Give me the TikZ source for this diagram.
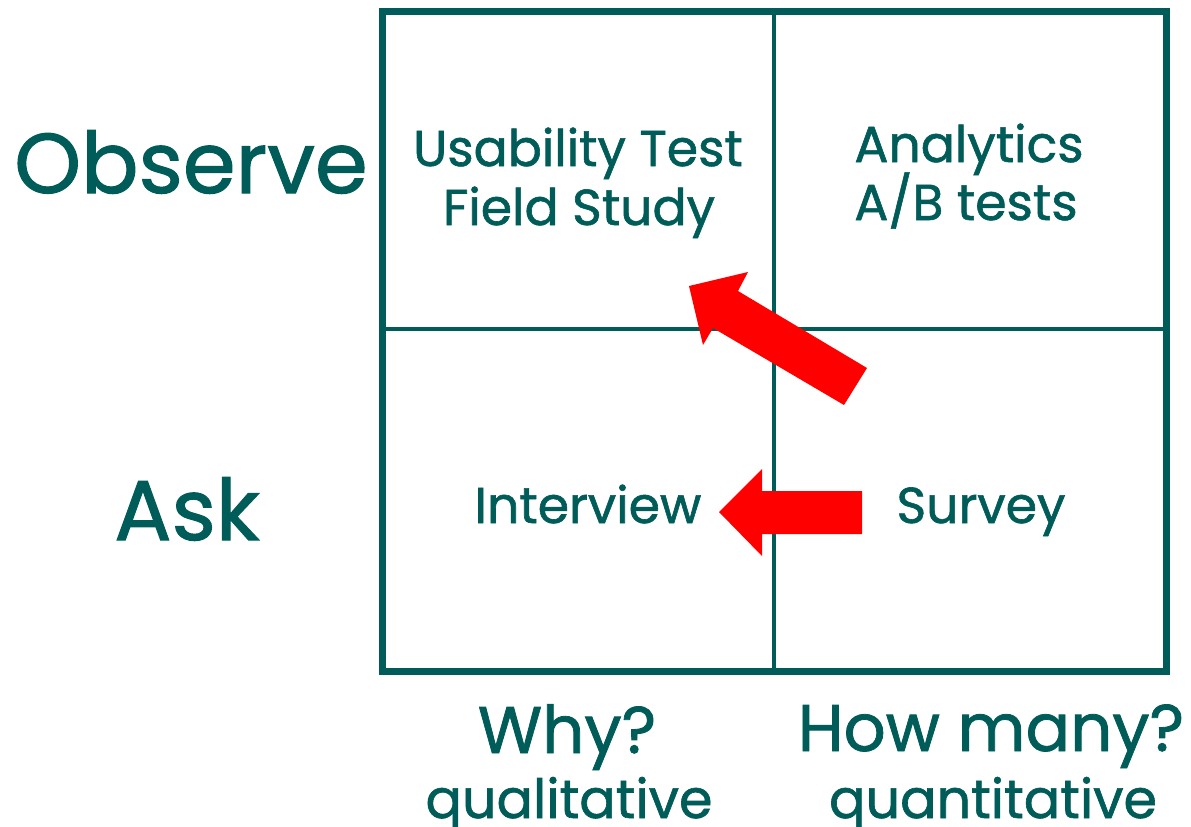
\documentclass[tikz,border=0pt]{standalone}
\usepackage{fontspec}
\setmainfont{Poppins}[FakeBold=1.2]
\definecolor{teal1}{RGB}{0,92,88}
\definecolor{arrowred}{RGB}{255,0,0}
\begin{document}
\begin{tikzpicture}[x=1pt,y=-1pt,
  outer/.style={draw=teal1,line width=7pt},
  inner/.style={draw=teal1,line width=4pt},
  bigword/.style={text=teal1,anchor=base,inner sep=0pt,font=\fontsize{85}{90}\selectfont},
  celltext/.style={text=teal1,anchor=base,inner sep=0pt,font=\fontsize{50.5}{56}\selectfont},
  axisq/.style={text=teal1,anchor=base,inner sep=0pt,font=\fontsize{66}{72}\selectfont},
  axissub/.style={text=teal1,anchor=base,inner sep=0pt,font=\fontsize{54}{60}\selectfont},
  blockarrow/.style={fill=arrowred,draw=none}]
\useasboundingbox (0,0) rectangle (1191,827);
% grid
\coordinate (tl) at (382,11);
\coordinate (br) at (1166,671);
\coordinate (mt) at (774,11);
\coordinate (mb) at (774,671);
\coordinate (ml) at (382,329);
\coordinate (mr) at (1166,329);
\draw[inner] (mt) -- (mb);
\draw[inner] (ml) -- (mr);
\draw[outer] (tl) rectangle (br);
% row labels
\node[bigword] (observe) at (191,193) {Observe};
\node[bigword] (ask) at (187,540) {Ask};
% cells
\node[celltext] (ut) at (578,166) {Usability Test};
\node[celltext] (fs) at (579,225) {Field Study};
\node[celltext] (an) at (969,162) {Analytics};
\node[celltext] (ab) at (966,220) {A/B tests};
\node[celltext] (iv) at (588,523) {Interview};
\node[celltext] (sv) at (981,523) {Survey};
% column labels
\node[axisq] (why) at (567,753) {Why?};
\node[axissub] (qual) at (569,818) {qualitative};
\node[axisq] (howmany) at (991,751) {How many?};
\node[axissub] (quant) at (993,818) {quantitative};
% arrows
\coordinate (d1) at (689,286);
\coordinate (d2) at (748,272);
\coordinate (d3) at (738,291);
\coordinate (d4) at (867,368);
\coordinate (d5) at (844,405);
\coordinate (d6) at (713,328);
\coordinate (d7) at (703,345);
\fill[blockarrow] (d1) -- (d2) -- (d3) -- (d4) -- (d5) -- (d6) -- (d7) -- cycle;
\coordinate (h1) at (719,512);
\coordinate (h2) at (762,469);
\coordinate (h3) at (762,491);
\coordinate (h4) at (862,491);
\coordinate (h5) at (862,534);
\coordinate (h6) at (762,534);
\coordinate (h7) at (762,556);
\fill[blockarrow] (h1) -- (h2) -- (h3) -- (h4) -- (h5) -- (h6) -- (h7) -- cycle;
\end{tikzpicture}
\end{document}
